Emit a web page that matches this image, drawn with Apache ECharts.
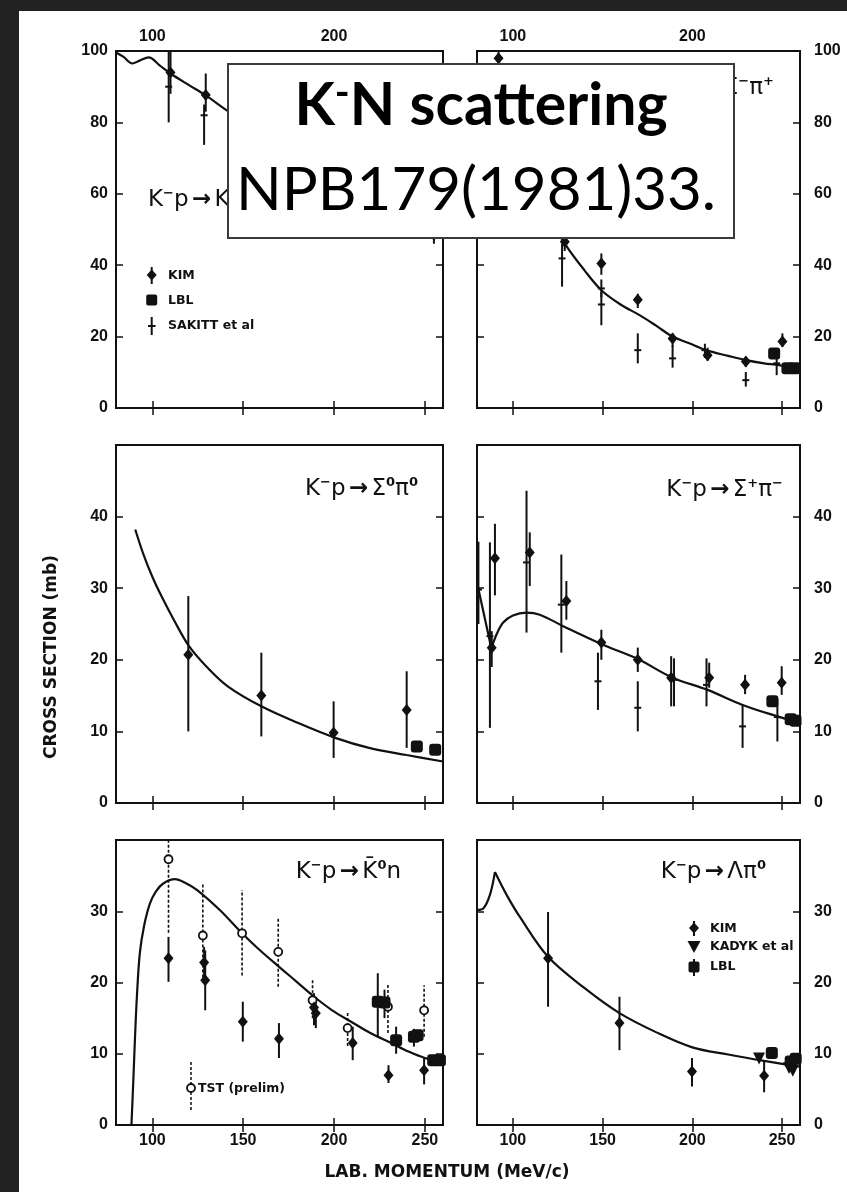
<!DOCTYPE html>
<html>
<head>
<meta charset="utf-8">
<title>K-N scattering</title>
<script src="https://cdn.jsdelivr.net/npm/echarts@6.0.0/dist/echarts.min.js"></script>
<style>
html,body{margin:0;padding:0;background:#222;}
#paper{position:absolute;left:19px;top:11px;width:828px;height:1181px;background:#fff;}
#chart{position:absolute;left:0;top:0;width:847px;height:1192px;}
</style>
</head>
<body>
<div id="paper"></div>
<div id="chart"></div>
<script>
// lab momentum axis, same for all six panels (MeV/c)
var xMin = 80, xMax = 260;
var xTicks = [100, 150, 200, 250];
var xTopLabels = [100, 200];
var yTicksTop = [0, 20, 40, 60, 80, 100];
var yTicksMid = [0, 10, 20, 30, 40, 50];
var yLabelsMid = [0, 10, 20, 30, 40];
var yTicksBot = [0, 10, 20, 30, 40];
var yLabelsBot = [0, 10, 20, 30];

// points: [p, sigma] ; error points: [p, sigma, low, high]
// K-p -> K-p
var curve1 = [[80,99.6],[84,98.4],[89,96.5],[93,97.3],[98,98.2],[104,96],[110,93.7],[120,90.5],[129,87.7],[142,83],[160,77],[180,70.5],[200,64.5],[220,58.5],[240,53],[260,48.5]];
var kim1 = [[110,94,88,100],[129.4,87.7,83,93.7],[255,48.5,46,51]];
var sak1 = [[109,90,80,101],[128.5,82,73.7,85]];

// K-p -> Sigma- pi+
var curve2 = [[80,92],[90,88],[100,77],[110,65],[120,54],[129,46],[140,38.5],[149.3,33],[160,29],[170.6,26],[180,23],[189,20],[200,17.8],[207.6,16.2],[220,14.6],[229.8,13.4],[240,12.5],[248.3,12],[260,10.8]];
var kim2 = [[92,98,95,101],[128.9,46.6,44,49],[149.3,40.5,37.3,43.3],[169.6,30.3,28,32],[189,19.5,17.1,20.9],[208.5,14.8,13.2,16.9],[229.8,13,11.5,14.3],[250.2,18.6,17.1,20.9]];
var sak2 = [[127.4,41.9,34,46],[149.3,33.5,31,36],[149.3,29,23.2,32.6],[169.6,16.2,12.5,20.9],[189,13.9,11.3,17.4],[207,16.2,14,18],[229.8,7.8,6,10.1],[247,12.5,9.2,14.3]];
var lbl2 = [[245.6,15.3,15.3,15.3],[253,11.1,11.1,11.1],[257,11.1,11.1,11.1]];

// K-p -> Sigma0 pi0
var curve3 = [[90.6,38.2],[95,34.8],[100,31.6],[105,28.9],[111.8,25.6],[120.2,21.9],[130,19],[141.5,16.3],[160,13.5],[180,11.2],[200.7,9.1],[219.3,7.7],[240,6.7],[260,5.8]];
var kim3 = [[119.8,20.7,10,28.9],[160,15,9.3,21],[199.8,9.8,6.3,14.2],[240,13,7.7,18.4]];
var lbl3 = [[245.6,7.9,7.9,7.9],[255.7,7.45,7.45,7.45]];

// K-p -> Sigma+ pi-
var curve4a = [[80,30.8],[88,21.6]];
var curve4b = [[88,21.6],[91,23.6],[94.6,25.2],[100,26.2],[107.6,26.6],[115,26.3],[128,24.7],[150.2,22.1],[169.6,20.1],[189,17.5],[208.5,15.8],[228,13.7],[247.4,12.1],[259.4,11.2]];
var kim4 = [[88.2,21.7,19,24],[90,34.2,29,39],[109.4,35,30.3,37.8],[129.8,28.2,25.6,31],[149.3,22.4,20,24.2],[169.6,20,18.3,21.7],[188.2,17.5,13.5,20.5],[209.4,17.5,16.1,19.6],[229.4,16.5,15.2,17.9],[249.8,16.8,15.1,19.1]];
var sak4 = [[80.8,29.8,25,36.5],[87.2,23.3,10.5,36.4],[107.6,33.6,23.8,43.6],[127,27.7,21,34.7],[147.4,17,13,21],[169.6,13.3,10,17],[189.8,17.2,13.5,20.2],[207.9,16.5,13.5,20.2],[228,10.7,7.7,13.7],[247.4,12,8.6,14.5]];
var lbl4 = [[244.6,14.2,14.2,14.2],[254.8,11.7,11.7,11.7],[257.5,11.5,11.5,11.5]];

// K-p -> K0bar n
var curve5 = [[88.5,0],[89.5,6],[90.4,11.9],[91.5,18],[93.1,24.1],[95.5,28],[98.7,31.1],[102,32.8],[106,33.9],[112.5,34.5],[118,34],[124.5,33],[137,30.2],[149.4,26.9],[158,24.8],[168.8,22.4],[179,20.2],[189.1,18],[199,16.1],[209.4,14.5],[220,12.9],[231.5,11.5],[241,10.3],[250,9.4],[259.2,8.9]];
var tst5 = [[108.9,37.3,27,47],[127.8,26.6,20,33.9],[149.4,26.9,21,33],[169.3,24.3,19.4,29],[188.2,17.5,15,20.3],[207.5,13.6,11.1,15.8],[229.7,16.6,12.9,19.9],[249.6,16.1,12.4,19.6]];
var kim5 = [[108.9,23.4,20.1,26.4],[129.1,20.3,16.1,24.5],[128.5,22.8,20,25],[149.8,14.5,11.7,17.3],[169.7,12.1,9.4,14.3],[190,15.7,13.6,18],[189,16.5,14,18.5],[210.3,11.5,9.1,13.8],[230,7,5.9,8.4],[249.6,7.7,5.7,9.4]];
var lbl5 = [[224.1,17.3,12.4,21.3],[227.8,17.2,15,19],[234.2,11.9,10,13.8],[244,12.4,11,13.5],[246,12.6,12.6,12.6],[254.6,9.1,9.1,9.1],[258.3,9.1,9.1,9.1]];

// K-p -> Lambda pi0
var curve6a = [[80,30.2],[83.5,30.4],[87.2,32.3],[90,35.5]];
var curve6b = [[90,35.5],[96.5,32.3],[103.9,29.2],[119.6,23.6],[140,19.2],[159.4,15.7],[180,13],[200,10.9],[220,9.9],[240,9],[259.4,8.2]];
var kim6 = [[119.6,23.4,16.6,29.9],[159.4,14.3,10.5,18],[199.8,7.5,5.4,9.4],[240,6.9,4.6,9.1]];
var kad6 = [[237.2,9.35],[253.9,8],[256,7.6]];
var lbl6 = [[244.3,10.1,10.1,10.1],[254.8,8.9,8.9,8.9],[257.6,9.3,9.3,9.3]];

var ink = '#111';
var fig = 'Liberation Sans, Arial, sans-serif';
var wide = 'DejaVu Sans, sans-serif';

var panels = [
    {grid:{left:116, top:51, width:327, height:357}, yTicks:yTicksTop, yLabels:yTicksTop, row:0, col:0},
    {grid:{left:477, top:51, width:323, height:357}, yTicks:yTicksTop, yLabels:yTicksTop, row:0, col:1},
    {grid:{left:116, top:445, width:327, height:358}, yTicks:yTicksMid, yLabels:yLabelsMid, row:1, col:0},
    {grid:{left:477, top:445, width:323, height:358}, yTicks:yTicksMid, yLabels:yLabelsMid, row:1, col:1},
    {grid:{left:116, top:840, width:327, height:285}, yTicks:yTicksBot, yLabels:yLabelsBot, row:2, col:0},
    {grid:{left:477, top:840, width:323, height:285}, yTicks:yTicksBot, yLabels:yLabelsBot, row:2, col:1}
];

var grids = [], xAxes = [], yAxes = [];
panels.forEach(function (p, i) {
    grids.push(Object.assign({show:true, borderColor:ink, borderWidth:2, backgroundColor:'transparent'}, p.grid));
    var lab = {color:ink, fontSize:16, fontWeight:'bold', fontFamily:fig};
    var tick = {inside:true, length:7, lineStyle:{color:ink, width:1.5}};
    ['bottom','top'].forEach(function (pos) {
        var show = (pos === 'bottom' && p.row === 2) || (pos === 'top' && p.row === 0);
        xAxes.push({
            gridIndex:i, type:'value', min:xMin, max:xMax, position:pos,
            axisLine:{show:false}, splitLine:{show:false},
            axisTick:Object.assign({customValues:xTicks}, tick),
            axisLabel:Object.assign({show:show, margin:pos === 'top' ? 6 : 8,
                customValues:pos === 'top' ? xTopLabels : xTicks}, lab)
        });
    });
    ['left','right'].forEach(function (pos) {
        var show = (pos === 'left' && p.col === 0) || (pos === 'right' && p.col === 1);
        yAxes.push({
            gridIndex:i, type:'value', min:0, max:p.yTicks[p.yTicks.length - 1], position:pos,
            axisLine:{show:false}, splitLine:{show:false},
            axisTick:Object.assign({customValues:p.yTicks}, tick),
            axisLabel:Object.assign({show:show, margin:pos === 'left' ? 8 : 14,
                customValues:p.yLabels}, lab)
        });
    });
});

function curve(panel, data) {
    return {type:'line', xAxisIndex:2*panel, yAxisIndex:2*panel, data:data, showSymbol:false,
        smooth:0.35, lineStyle:{color:ink, width:2.2}, silent:true, z:2};
}
function bars(panel, data, dashed, cross) {
    return {
        type:'custom', xAxisIndex:2*panel, yAxisIndex:2*panel, data:data, clip:true, silent:true, z:3,
        encode:{x:0, y:[1,2,3]},
        renderItem:function (params, api) {
            var lo = api.coord([api.value(0), api.value(2)]);
            var hi = api.coord([api.value(0), api.value(3)]);
            var c = api.coord([api.value(0), api.value(1)]);
            var kids = [{type:'line', shape:{x1:lo[0], y1:lo[1], x2:hi[0], y2:hi[1]},
                style:{stroke:ink, lineWidth:dashed ? 1.6 : 2, lineDash:dashed ? [3,2] : null}}];
            if (cross) {
                kids.push({type:'line', shape:{x1:c[0]-3.5, y1:c[1], x2:c[0]+3.5, y2:c[1]},
                    style:{stroke:ink, lineWidth:2}});
            }
            return {type:'group', children:kids};
        }
    };
}
function marks(panel, data, symbol, size, opts) {
    opts = opts || {};
    return {type:'scatter', xAxisIndex:2*panel, yAxisIndex:2*panel, data:data, symbol:symbol,
        symbolSize:size, symbolRotate:opts.rotate || 0, clip:true, silent:true, z:4,
        itemStyle:opts.empty ? {color:'#fff', borderColor:ink, borderWidth:1.8, opacity:1}
                             : {color:ink, opacity:1}};
}

var kimSize = [10, 12], lblSize = 12;
var series = [
    curve(0, curve1), bars(0, kim1), marks(0, kim1, 'diamond', kimSize), bars(0, sak1, false, true),
    curve(1, curve2), bars(1, kim2), marks(1, kim2, 'diamond', kimSize), bars(1, sak2, false, true),
    marks(1, lbl2, 'roundRect', lblSize),
    curve(2, curve3), bars(2, kim3), marks(2, kim3, 'diamond', kimSize), marks(2, lbl3, 'roundRect', lblSize),
    curve(3, curve4a), curve(3, curve4b), bars(3, kim4), marks(3, kim4, 'diamond', kimSize),
    bars(3, sak4, false, true), marks(3, lbl4, 'roundRect', lblSize),
    curve(4, curve5), bars(4, tst5, true), marks(4, tst5, 'circle', 8, {empty:true}),
    bars(4, kim5), marks(4, kim5, 'diamond', kimSize), bars(4, lbl5), marks(4, lbl5, 'roundRect', lblSize),
    curve(5, curve6a), curve(5, curve6b), bars(5, kim6), marks(5, kim6, 'diamond', kimSize),
    marks(5, kad6, 'triangle', 12, {rotate:180}), marks(5, lbl6, 'roundRect', lblSize)
];

// reaction labels, rich text with raised charges
var rs = {
    b:{fontSize:23, fontFamily:wide, fill:ink},
    s:{fontSize:13, fontFamily:wide, fill:ink, fontWeight:'bold', padding:[0,0,13,0]},
    a:{fontSize:23, fontFamily:wide, fill:ink, fontWeight:'bold'}
};
function reaction(text, x, y, align) {
    return {type:'text', x:x, y:y, z:10, silent:true,
        style:{text:text, rich:rs, align:align, verticalAlign:'middle'}};
}
function legText(text, x, y) {
    return {type:'text', x:x, y:y, z:10, silent:true,
        style:{text:text, fill:ink, font:'bold 12.5px ' + wide, verticalAlign:'middle'}};
}
function vbar(x, y1, y2, dashed) {
    return {type:'line', z:10, silent:true, shape:{x1:x, y1:y1, x2:x, y2:y2},
        style:{stroke:ink, lineWidth:dashed ? 1.5 : 2, lineDash:dashed ? [3,2] : null}};
}
function diamond(x, y) {
    return {type:'polygon', z:10, silent:true,
        shape:{points:[[x,y-5.5],[x+5,y],[x,y+5.5],[x-5,y]]}, style:{fill:ink}};
}
function square(x, y) {
    return {type:'rect', z:10, silent:true, shape:{x:x-5.5, y:y-5.5, width:11, height:11, r:2}, style:{fill:ink}};
}

var graphic = [
    reaction('{b|K}{s|−}{b|p} {a|→} {b|K}{s|−}{b|p}', 148, 200, 'left'),
    reaction('{b|K}{s|−}{b|p} {a|→} {b|Σ}{s|−}{b|π}{s|+}', 774, 88, 'right'),
    reaction('{b|K}{s|−}{b|p} {a|→} {b|Σ}{s|0}{b|π}{s|0}', 418, 489, 'right'),
    reaction('{b|K}{s|−}{b|p} {a|→} {b|Σ}{s|+}{b|π}{s|−}', 783, 490, 'right'),
    reaction('{b|K}{s|−}{b|p} {a|→} {b|K\u0304}{s|0}{b|n}', 401, 872, 'right'),
    reaction('{b|K}{s|−}{b|p} {a|→} {b|Λπ}{s|0}', 766, 872, 'right'),

    // legend, top-left panel
    vbar(151.7, 267, 284), diamond(151.7, 275), legText('KIM', 168, 276),
    square(151.7, 300), legText('LBL', 168, 301),
    vbar(151.7, 317, 335), {type:'line', z:10, silent:true, shape:{x1:148, y1:326, x2:155.5, y2:326}, style:{stroke:ink, lineWidth:2}},
    legText('SAKITT et al', 168, 326),
    // legend, bottom-left panel
    vbar(191, 1062, 1112, true),
    {type:'circle', z:11, silent:true, shape:{cx:191, cy:1088, r:4}, style:{fill:'#fff', stroke:ink, lineWidth:1.8}},
    legText('TST (prelim)', 198, 1089),
    // legend, bottom-right panel
    vbar(694, 921, 936), diamond(694, 928), legText('KIM', 710, 929),
    {type:'polygon', z:10, silent:true, shape:{points:[[687.5,941],[700.5,941],[694,953]]}, style:{fill:ink}},
    legText('KADYK et al', 710, 947),
    vbar(694, 959, 976), square(694, 967), legText('LBL', 710, 967),

    // axis titles
    {type:'text', x:52, y:657, rotation:Math.PI/2, z:10, silent:true,
        style:{text:'CROSS SECTION (mb)', fill:ink, font:'bold 17px ' + wide, align:'center', verticalAlign:'middle'}},
    {type:'text', x:447, y:1173, z:10, silent:true,
        style:{text:'LAB. MOMENTUM (MeV/c)', fill:ink, font:'bold 17px ' + wide, align:'center', verticalAlign:'middle'}},

    // caption box over the figure
    {type:'rect', z:100, silent:true, shape:{x:228, y:64, width:506, height:174},
        style:{fill:'#fff', stroke:'#3a3a3a', lineWidth:2}},
    {type:'text', x:481, y:106, z:101, silent:true,
        style:{text:'{t|K}{u|-}{t|N scattering}', align:'center', verticalAlign:'middle',
            rich:{t:{fontSize:59, fontFamily:'Lato', fontWeight:'bold', fill:'#000'},
                  u:{fontSize:40, fontFamily:'Lato', fontWeight:'bold', fill:'#000', padding:[0,0,26,0]}}}},
    {type:'text', x:476, y:191, z:101, silent:true,
        style:{text:'NPB179(1981)33.', fill:'#000', font:'60px Lato', align:'center', verticalAlign:'middle'}}
];

var chart = echarts.init(document.getElementById('chart'));
chart.setOption({
    animation:false,
    grid:grids,
    xAxis:xAxes,
    yAxis:yAxes,
    series:series,
    graphic:graphic
});
</script>
</body>
</html>
